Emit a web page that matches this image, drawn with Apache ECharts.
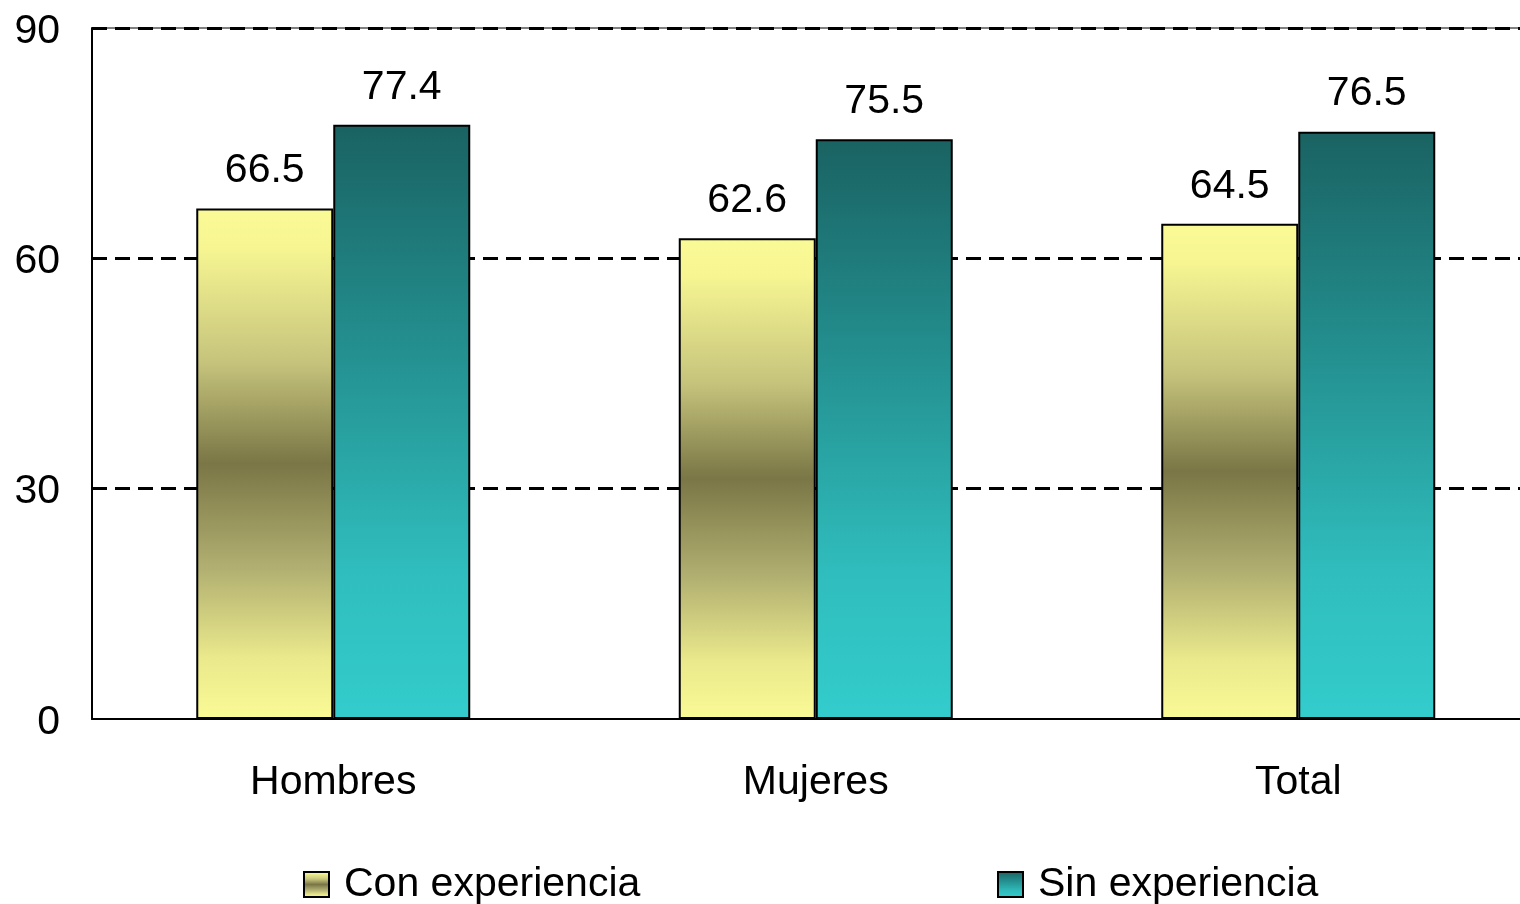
<!DOCTYPE html>
<html>
<head>
<meta charset="utf-8">
<script src="https://cdn.jsdelivr.net/npm/echarts@6/dist/echarts.min.js"></script>
<style>html,body{margin:0;padding:0;background:#fff}#c{width:1520px;height:904px}</style>
</head>
<body>
<div id="c"></div>
<script>
const categories = ["Hombres", "Mujeres", "Total"];
const seriesNames = ["Con experiencia", "Sin experiencia"];
const conExperiencia = [66.5, 62.6, 64.5];
const sinExperiencia = [77.4, 75.5, 76.5];
const yTicks = [0, 30, 60, 90];

const FONT = "Liberation Sans";
const FS = 41;
const chart = echarts.init(document.getElementById('c'), null, {renderer: 'canvas'});

const yellowGrad = new echarts.graphic.LinearGradient(0, 0, 0, 1, [
  {offset: 0, color: '#FAFA96'},
  {offset: 0.08, color: '#F6F592'},
  {offset: 0.3, color: '#C6C47C'},
  {offset: 0.5, color: '#7A7646'},
  {offset: 0.7, color: '#B0AE70'},
  {offset: 0.88, color: '#EAE98C'},
  {offset: 1, color: '#FAFA96'}
]);
const tealGrad = new echarts.graphic.LinearGradient(0, 0, 0, 1, [
  {offset: 0, color: '#1A6262'},
  {offset: 0.35, color: '#238C8C'},
  {offset: 0.75, color: '#30BDBD'},
  {offset: 1, color: '#33CCCC'}
]);

const labelCfg = {show: true, position: 'top', distance: 17, color: '#000', fontSize: FS, fontFamily: FONT,
  formatter: p => p.value.toFixed(1)};

chart.setOption({
  animation: false,
  backgroundColor: '#fff',
  textStyle: {fontFamily: FONT},
  grid: {left: 92, top: 28, width: 1447.5, height: 691, outerBoundsMode: 'none', containLabel: false,
    show: true, borderColor: '#000', borderWidth: 1, backgroundColor: 'transparent'},
  legend: [
    {data: [seriesNames[0]], left: 298, top: 859, itemWidth: 25, itemHeight: 25, icon: 'rect',
     itemStyle: {borderColor: '#000', borderWidth: 2},
     textStyle: {fontSize: FS, color: '#000', fontFamily: FONT, padding: [0, 0, 0, 10]}},
    {data: [seriesNames[1]], left: 992, top: 859, itemWidth: 25, itemHeight: 25, icon: 'rect',
     itemStyle: {borderColor: '#000', borderWidth: 2},
     textStyle: {fontSize: FS, color: '#000', fontFamily: FONT, padding: [0, 0, 0, 10]}}
  ],
  xAxis: {
    type: 'category', data: categories,
    axisLine: {lineStyle: {color: '#000', width: 2}},
    axisTick: {show: false},
    axisLabel: {color: '#000', fontSize: FS, fontFamily: FONT, margin: 43}
  },
  yAxis: {
    type: 'value', min: yTicks[0], max: yTicks[yTicks.length - 1], interval: 30,
    axisLine: {show: true, lineStyle: {color: '#000', width: 2}},
    axisTick: {show: false},
    axisLabel: {color: '#000', fontSize: FS, fontFamily: FONT, margin: 32,
      formatter: '{a|{value}}',
      rich: {a: {fontSize: FS, fontFamily: FONT, color: '#000', padding: [7, 0, 0, 0]}}},
    splitLine: {showMinLine: false, lineStyle: {color: '#000', width: 3, type: [15, 8]}}
  },
  series: [
    {name: seriesNames[0], type: 'bar', data: conExperiencia, barWidth: 137, barGap: '0%',
     itemStyle: {color: yellowGrad, borderColor: '#000', borderWidth: 2},
     label: labelCfg},
    {name: seriesNames[1], type: 'bar', data: sinExperiencia, barWidth: 137, barGap: '0%',
     itemStyle: {color: tealGrad, borderColor: '#000', borderWidth: 2},
     label: labelCfg}
  ]
});
</script>
</body>
</html>
